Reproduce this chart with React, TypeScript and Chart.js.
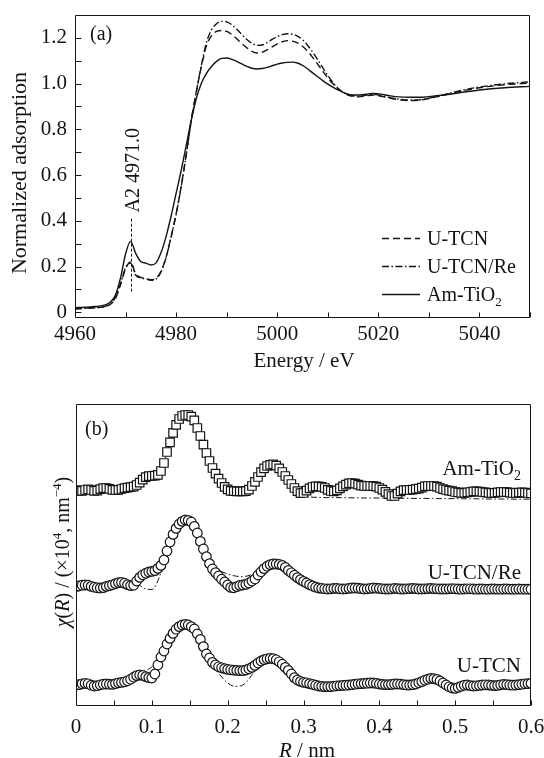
import { useEffect, useRef } from 'react';
import { Chart, registerables } from 'chart.js';

Chart.register(...registerables);

const FONT_FAMILY = '"Liberation Serif", "Times New Roman", Times, serif';
const INK = '#141414';
const TICK_SIZE = 21;
const LEGEND_SIZE = 20;

// ---------- (a) Ti K-edge XANES ----------
const ENERGY = [
  4960, 4962, 4964, 4966, 4967, 4968, 4969, 4970, 4971, 4972,
  4973, 4974, 4975, 4976, 4977, 4978, 4979, 4980, 4981, 4982,
  4983, 4984, 4985, 4986, 4987, 4988, 4989, 4990, 4991, 4992,
  4993, 4994, 4995, 4996, 4997, 4998, 4999, 5000, 5001, 5002,
  5003, 5004, 5005, 5006, 5007, 5008, 5009, 5010, 5011, 5012,
  5013, 5014, 5015, 5016, 5017, 5018, 5019, 5020, 5022, 5024,
  5026, 5028, 5030, 5033, 5036, 5040, 5045, 5050,
];

const XANES_UTCN = [
  0.015, 0.018, 0.020, 0.025, 0.035, 0.060, 0.120, 0.190, 0.220, 0.168,
  0.153, 0.148, 0.142, 0.148, 0.178, 0.240, 0.330, 0.430, 0.550, 0.690,
  0.840, 0.965, 1.075, 1.165, 1.210, 1.228, 1.232, 1.228, 1.215, 1.196,
  1.175, 1.156, 1.141, 1.134, 1.137, 1.147, 1.161, 1.174, 1.183, 1.188,
  1.186, 1.178, 1.163, 1.142, 1.115, 1.085, 1.055, 1.025, 1.000, 0.978,
  0.962, 0.950, 0.944, 0.942, 0.944, 0.948, 0.950, 0.947, 0.938, 0.930,
  0.926, 0.927, 0.935, 0.950, 0.965, 0.982, 0.995, 1.002,
];

const XANES_UTCN_RE = [
  0.015, 0.017, 0.020, 0.026, 0.038, 0.065, 0.125, 0.195, 0.215, 0.163,
  0.150, 0.146, 0.140, 0.145, 0.176, 0.238, 0.328, 0.428, 0.548, 0.688,
  0.838, 0.965, 1.080, 1.180, 1.235, 1.262, 1.272, 1.270, 1.258, 1.238,
  1.215, 1.193, 1.176, 1.167, 1.169, 1.179, 1.193, 1.205, 1.214, 1.218,
  1.216, 1.208, 1.192, 1.168, 1.138, 1.105, 1.070, 1.035, 1.005, 0.980,
  0.963, 0.952, 0.947, 0.945, 0.947, 0.951, 0.953, 0.950, 0.940, 0.932,
  0.928, 0.929, 0.936, 0.952, 0.968, 0.985, 0.999, 1.008,
];

const XANES_AM_TIO2 = [
  0.020, 0.022, 0.025, 0.032, 0.045, 0.075, 0.150, 0.255, 0.310, 0.258,
  0.222, 0.215, 0.207, 0.215, 0.260, 0.330, 0.420, 0.520, 0.620, 0.730,
  0.840, 0.935, 1.002, 1.045, 1.075, 1.097, 1.110, 1.112, 1.106, 1.097,
  1.086, 1.075, 1.067, 1.064, 1.066, 1.071, 1.078, 1.085, 1.090, 1.093,
  1.094, 1.090, 1.080, 1.065, 1.047, 1.030, 1.013, 0.998, 0.985, 0.973,
  0.962, 0.954, 0.950, 0.950, 0.952, 0.955, 0.957, 0.955, 0.948, 0.942,
  0.940, 0.940, 0.943, 0.950, 0.960, 0.972, 0.982, 0.988,
];

const XANES_LABELS = ['U-TCN', 'U-TCN/Re', 'Am-TiO₂'];
const ENERGY_TICKS = [4960, 4970, 4980, 4990, 5000, 5010, 5020, 5030, 5040, 5050];
const ENERGY_LABELS = [4960, 4980, 5000, 5020, 5040];
const ABS_TICKS = [0, 0.1, 0.2, 0.3, 0.4, 0.5, 0.6, 0.7, 0.8, 0.9, 1.0, 1.1, 1.2];
const ABS_LABELS = [0, 0.2, 0.4, 0.6, 0.8, 1.0, 1.2];
const A2_ENERGY = 4971.0;
const A2_SPAN = [0.09, 0.41];

// ---------- (b) Fourier-transformed EXAFS, stacked ----------
const R_STEP = 0.004;
const FIT_STEP = 0.01;

const CHI_AM_TIO2 = [
  10.80, 10.76, 10.76, 10.80, 10.83, 10.80, 10.76, 10.77, 10.84, 10.89,
  10.90, 10.86, 10.81, 10.80, 10.81, 10.85, 10.89, 10.92, 10.94, 10.97,
  11.05, 11.17, 11.32, 11.44, 11.49, 11.50, 11.52, 11.56, 11.75, 12.15,
  12.70, 13.18, 13.66, 14.06, 14.35, 14.50, 14.55, 14.55, 14.47, 14.28,
  13.90, 13.50, 13.07, 12.65, 12.25, 11.90, 11.62, 11.37, 11.15, 10.96,
  10.83, 10.76, 10.74, 10.73, 10.73, 10.73, 10.74, 10.82, 11.00, 11.21,
  11.45, 11.69, 11.88, 12.00, 12.06, 12.08, 12.02, 11.88, 11.70, 11.50,
  11.30, 11.10, 10.90, 10.74, 10.64, 10.65, 10.77, 10.88, 10.95, 10.98,
  10.98, 10.96, 10.90, 10.81, 10.75, 10.73, 10.78, 10.88, 10.98, 11.07,
  11.13, 11.15, 11.12, 11.07, 11.02, 11.00, 11.00, 11.00, 10.99, 10.97,
  10.90, 10.82, 10.71, 10.59, 10.50, 10.50, 10.62, 10.73, 10.79, 10.80,
  10.80, 10.82, 10.84, 10.87, 10.92, 10.98, 11.00, 11.00, 11.00, 10.97,
  10.90, 10.84, 10.80, 10.77, 10.74, 10.70, 10.68, 10.66, 10.66, 10.68,
  10.70, 10.73, 10.73, 10.72, 10.70, 10.68, 10.66, 10.65, 10.66, 10.68,
  10.70, 10.70, 10.69, 10.67, 10.65, 10.65, 10.67, 10.68, 10.67, 10.65,
  10.63,
];

const CHI_UTCN_RE = [
  5.98, 6.00, 6.04, 6.05, 6.04, 5.98, 5.94, 5.91, 5.90, 5.92,
  5.98, 6.02, 6.06, 6.12, 6.17, 6.18, 6.14, 6.07, 6.02, 6.04,
  6.25, 6.43, 6.56, 6.64, 6.70, 6.73, 6.77, 6.88, 7.03, 7.30,
  7.75, 8.20, 8.58, 8.88, 9.10, 9.23, 9.30, 9.28, 9.20, 8.98,
  8.65, 8.23, 7.85, 7.47, 7.12, 6.85, 6.67, 6.50, 6.34, 6.20,
  6.05, 5.93, 5.91, 5.97, 6.03, 6.05, 6.08, 6.15, 6.25, 6.35,
  6.55, 6.71, 6.87, 6.99, 7.07, 7.10, 7.10, 7.08, 7.03, 6.93,
  6.78, 6.66, 6.54, 6.42, 6.32, 6.23, 6.15, 6.07, 6.00, 5.94,
  5.90, 5.88, 5.86, 5.85, 5.86, 5.88, 5.88, 5.86, 5.85, 5.86,
  5.88, 5.90, 5.90, 5.89, 5.87, 5.85, 5.86, 5.88, 5.90, 5.89,
  5.88, 5.86, 5.85, 5.85, 5.86, 5.88, 5.87, 5.85, 5.85, 5.86,
  5.87, 5.88, 5.87, 5.85, 5.85, 5.86, 5.87, 5.88, 5.87, 5.86,
  5.85, 5.85, 5.85, 5.86, 5.87, 5.86, 5.85, 5.84, 5.85, 5.86,
  5.86, 5.85, 5.84, 5.85, 5.85, 5.84, 5.84, 5.85, 5.85, 5.84,
  5.84, 5.85, 5.85, 5.84, 5.84, 5.84, 5.85, 5.84, 5.84, 5.84,
  5.84,
];

const CHI_UTCN = [
  1.05, 1.07, 1.11, 1.13, 1.11, 1.04, 1.00, 1.02, 1.06, 1.09,
  1.10, 1.09, 1.08, 1.12, 1.16, 1.18, 1.21, 1.26, 1.34, 1.44,
  1.52, 1.55, 1.53, 1.47, 1.42, 1.40, 1.60, 2.05, 2.45, 2.75,
  3.10, 3.38, 3.63, 3.84, 3.97, 4.05, 4.08, 4.05, 3.97, 3.85,
  3.60, 3.33, 2.97, 2.60, 2.40, 2.18, 2.05, 1.96, 1.91, 1.87,
  1.83, 1.81, 1.79, 1.78, 1.77, 1.77, 1.80, 1.86, 1.93, 2.03,
  2.15, 2.25, 2.32, 2.36, 2.38, 2.37, 2.31, 2.21, 2.09, 1.93,
  1.78, 1.60, 1.42, 1.30, 1.23, 1.18, 1.16, 1.12, 1.08, 1.04,
  1.00, 0.98, 0.97, 0.97, 0.97, 0.99, 1.01, 1.02, 1.03, 1.04,
  1.05, 1.07, 1.09, 1.11, 1.12, 1.13, 1.14, 1.15, 1.15, 1.13,
  1.10, 1.08, 1.07, 1.07, 1.08, 1.10, 1.10, 1.09, 1.07, 1.05,
  1.05, 1.07, 1.10, 1.16, 1.22, 1.29, 1.34, 1.38, 1.37, 1.33,
  1.25, 1.15, 1.05, 0.96, 0.90, 0.88, 0.93, 0.99, 1.04, 1.05,
  1.02, 1.00, 1.01, 1.03, 1.05, 1.06, 1.05, 1.03, 1.02, 1.03,
  1.06, 1.08, 1.07, 1.05, 1.04, 1.05, 1.07, 1.09, 1.11, 1.12,
  1.13,
];

const FIT_AM_TIO2 = [
  10.80, 10.78, 10.80, 10.82, 10.87, 10.82, 10.86, 10.92, 11.03, 11.38,
  11.50, 11.62, 12.65, 13.85, 14.47, 14.50, 13.88, 12.85, 11.88, 11.25,
  10.85, 10.72, 10.73, 10.90, 11.45, 11.95, 12.06, 11.80, 11.30, 10.85,
  10.55, 10.45, 10.43, 10.42, 10.42, 10.42, 10.41, 10.41, 10.40, 10.40,
  10.40, 10.40, 10.39, 10.39, 10.38, 10.38, 10.38, 10.37, 10.37, 10.37,
  10.37, 10.36, 10.36, 10.36, 10.35, 10.35, 10.35, 10.35, 10.34, 10.34,
  10.34,
];

const FIT_UTCN_RE = [
  5.98, 6.05, 5.98, 5.90, 5.98, 6.08, 6.18, 6.03, 6.10, 5.88,
  5.82, 6.45, 7.70, 8.75, 9.25, 9.28, 8.70, 7.75, 6.95, 6.75,
  6.60, 6.50, 6.47, 6.55, 6.72, 6.92, 7.05, 6.95, 6.60, 6.25,
  5.98, 5.88, 5.86, 5.86, 5.87, 5.86, 5.87, 5.88, 5.86, 5.88,
  5.86, 5.85, 5.87, 5.86, 5.86, 5.87, 5.86, 5.86, 5.87, 5.85,
  5.86, 5.86, 5.84, 5.85, 5.86, 5.84, 5.85, 5.84, 5.84, 5.84,
  5.84,
];

const FIT_UTCN = [
  1.05, 1.10, 1.06, 1.04, 1.10, 1.10, 1.18, 1.30, 1.55, 1.75,
  1.95, 2.35, 3.20, 3.85, 4.12, 4.05, 3.55, 2.75, 2.05, 1.55,
  1.15, 0.98, 1.05, 1.45, 2.05, 2.35, 2.38, 2.12, 1.75, 1.38,
  1.18, 1.10, 1.02, 0.98, 0.98, 1.02, 1.05, 1.10, 1.13, 1.15,
  1.10, 1.07, 1.10, 1.08, 1.05, 1.12, 1.28, 1.36, 1.22, 0.98,
  0.85, 1.00, 1.02, 1.02, 1.06, 1.02, 1.06, 1.06, 1.05, 1.10,
  1.13,
];

const R_TICKS = [0, 0.05, 0.1, 0.15, 0.2, 0.25, 0.3, 0.35, 0.4, 0.45, 0.5, 0.55, 0.6];
const R_LABELS = [0, 0.1, 0.2, 0.3, 0.4, 0.5, 0.6];
const CHI_RANGE = [0, 15.1];

// ---------- styles ----------
const DASH_UTCN = [7, 4];
const DASH_UTCN_RE = [7, 2.5, 1.5, 2.5];
const DASH_FIT = [6, 2.5, 1.5, 2.5];

type Run = { t: string; italic?: boolean; sup?: boolean; sub?: boolean };

function runFont(r: Run, size: number) {
  const s = r.sup || r.sub ? Math.round(size * 0.65) : size;
  return `${r.italic ? 'italic ' : ''}${s}px ${FONT_FAMILY}`;
}

function drawRuns(
  ctx: CanvasRenderingContext2D,
  runs: Run[],
  x: number,
  y: number,
  size: number,
  align: 'left' | 'center' | 'right',
) {
  ctx.save();
  ctx.fillStyle = INK;
  ctx.textBaseline = 'alphabetic';
  ctx.textAlign = 'left';
  let total = 0;
  for (const r of runs) {
    ctx.font = runFont(r, size);
    total += ctx.measureText(r.t).width;
  }
  let cx = align === 'left' ? x : align === 'center' ? x - total / 2 : x - total;
  for (const r of runs) {
    ctx.font = runFont(r, size);
    const dy = r.sup ? -size * 0.4 : r.sub ? size * 0.24 : 0;
    ctx.fillText(r.t, cx, y + dy);
    cx += ctx.measureText(r.t).width;
  }
  ctx.restore();
}

function labelRuns(label: string): Run[] {
  const parts = label.split('₂');
  const runs: Run[] = [];
  parts.forEach((p, i) => {
    if (p) runs.push({ t: p });
    if (i < parts.length - 1) runs.push({ t: '2', sub: true });
  });
  return runs;
}

const near = (list: number[], v: number) => list.some((l) => Math.abs(l - v) < 1e-6);

function drawFrame(chart: any, xTicks: number[], yTicks: number[]) {
  const { ctx, chartArea: ca, scales } = chart;
  const L = Math.round(ca.left) + 0.5;
  const R = Math.round(ca.right) - 0.5;
  const T = Math.round(ca.top) + 0.5;
  const B = Math.round(ca.bottom) - 0.5;
  ctx.save();
  ctx.strokeStyle = INK;
  ctx.lineWidth = 1;
  ctx.setLineDash([]);
  ctx.beginPath();
  ctx.rect(L, T, R - L, B - T);
  for (const v of xTicks) {
    const px = Math.round(scales.x.getPixelForValue(v)) + 0.5;
    ctx.moveTo(px, B);
    ctx.lineTo(px, B - 5);
  }
  for (const v of yTicks) {
    const py = Math.round(scales.y.getPixelForValue(v)) + 0.5;
    ctx.moveTo(L, py);
    ctx.lineTo(L + 6, py);
  }
  ctx.stroke();
  ctx.restore();
}

const tickFont = { family: FONT_FAMILY, size: TICK_SIZE };

function configXanes(): any {
  const series = [XANES_UTCN, XANES_UTCN_RE, XANES_AM_TIO2];
  const dashes = [DASH_UTCN, DASH_UTCN_RE, []];
  const datasets = series.map((vals, k) => ({
    label: XANES_LABELS[k],
    data: ENERGY.map((e, i) => ({ x: e, y: vals[i] })),
    borderColor: INK,
    borderWidth: 1.4,
    borderDash: dashes[k],
    pointRadius: 0,
    fill: false,
    cubicInterpolationMode: 'monotone',
  }));

  const decor = {
    id: 'xanesDecor',
    afterDatasetsDraw(chart: any) {
      const { ctx, scales } = chart;
      drawFrame(chart, ENERGY_TICKS, ABS_TICKS);

      // A2 pre-edge marker
      const ax = Math.round(scales.x.getPixelForValue(A2_ENERGY)) + 0.5;
      const y0 = scales.y.getPixelForValue(A2_SPAN[0]);
      const y1 = scales.y.getPixelForValue(A2_SPAN[1]);
      ctx.save();
      ctx.strokeStyle = INK;
      ctx.lineWidth = 1;
      ctx.setLineDash([3, 2]);
      ctx.beginPath();
      ctx.moveTo(ax, y0);
      ctx.lineTo(ax, y1);
      ctx.stroke();
      ctx.translate(ax, y1 - 6);
      ctx.rotate(-Math.PI / 2);
      drawRuns(ctx, [{ t: `A2 ${A2_ENERGY.toFixed(1)}` }], 0, 7, LEGEND_SIZE, 'left');
      ctx.restore();

      // legend
      const rows = [238, 266, 294];
      chart.data.datasets.forEach((ds: any, k: number) => {
        const y = rows[k] + 0.5;
        ctx.save();
        ctx.strokeStyle = INK;
        ctx.lineWidth = 1.3;
        ctx.setLineDash(ds.borderDash || []);
        ctx.beginPath();
        ctx.moveTo(382, y);
        ctx.lineTo(420, y);
        ctx.stroke();
        ctx.restore();
        drawRuns(ctx, labelRuns(ds.label), 427, rows[k] + 7, LEGEND_SIZE, 'left');
      });

      // panel tag and axis titles
      drawRuns(ctx, [{ t: '(a)' }], 90, 40, LEGEND_SIZE, 'left');
      drawRuns(ctx, [{ t: 'Energy / eV' }], 304, 367, 21, 'center');
      ctx.save();
      ctx.translate(21, 173);
      ctx.rotate(-Math.PI / 2);
      drawRuns(ctx, [{ t: 'Normalized adsorption' }], 0, 5, 22, 'center');
      ctx.restore();
    },
  };

  return {
    type: 'line',
    data: { datasets },
    plugins: [decor],
    options: {
      animation: false,
      responsive: false,
      events: [],
      layout: { padding: { top: 15, right: 14, left: 0, bottom: 0 } },
      plugins: { legend: { display: false }, tooltip: { enabled: false } },
      scales: {
        x: {
          type: 'linear',
          min: 4960,
          max: 5050,
          afterBuildTicks: (s: any) => {
            s.ticks = ENERGY_TICKS.map((v) => ({ value: v }));
          },
          afterFit: (s: any) => {
            s.height = 62;
            s.paddingLeft = 0;
            s.paddingRight = 0;
          },
          grid: { display: false, drawTicks: false },
          border: { display: false },
          ticks: {
            autoSkip: false,
            maxRotation: 0,
            padding: 4,
            color: INK,
            font: tickFont,
            callback: (v: number) => (near(ENERGY_LABELS, v) ? String(v) : ''),
          },
        },
        y: {
          type: 'linear',
          min: -0.025,
          max: 1.3,
          afterBuildTicks: (s: any) => {
            s.ticks = ABS_TICKS.map((v) => ({ value: v }));
          },
          afterFit: (s: any) => {
            s.width = 75;
            s.paddingTop = 0;
            s.paddingBottom = 0;
          },
          grid: { display: false, drawTicks: false },
          border: { display: false },
          ticks: {
            autoSkip: false,
            padding: 8,
            color: INK,
            font: tickFont,
            callback: (v: number) => (near(ABS_LABELS, v) ? (v === 0 ? '0' : v.toFixed(1)) : ''),
          },
        },
      },
    },
  };
}

function configExafs(): any {
  const samples = [
    { label: 'Am-TiO₂', data: CHI_AM_TIO2, fit: FIT_AM_TIO2, marker: 'rect', radius: 6 },
    { label: 'U-TCN/Re', data: CHI_UTCN_RE, fit: FIT_UTCN_RE, marker: 'circle', radius: 4.8 },
    { label: 'U-TCN', data: CHI_UTCN, fit: FIT_UTCN, marker: 'circle', radius: 4.8 },
  ];
  const datasets: any[] = [];
  samples.forEach((s) => {
    datasets.push({
      label: s.label,
      data: s.data.map((v, i) => ({ x: i * R_STEP, y: v })),
      showLine: false,
      pointStyle: s.marker,
      pointRadius: s.radius,
      pointBorderWidth: 1.2,
      pointBorderColor: INK,
      pointBackgroundColor: '#ffffff',
      order: 1,
    });
    datasets.push({
      label: `${s.label} fit`,
      data: s.fit.map((v, i) => ({ x: i * FIT_STEP, y: v })),
      borderColor: INK,
      borderWidth: 1,
      borderDash: DASH_FIT,
      pointRadius: 0,
      fill: false,
      cubicInterpolationMode: 'monotone',
      order: 2,
    });
  });

  const labelRows = [88, 192, 285];

  const decor = {
    id: 'exafsDecor',
    afterDatasetsDraw(chart: any) {
      const { ctx } = chart;
      drawFrame(chart, R_TICKS, []);
      samples.forEach((s, k) => {
        drawRuns(ctx, labelRuns(s.label), 521, labelRows[k] + 7, 21, 'right');
      });
      drawRuns(ctx, [{ t: '(b)' }], 85, 55, LEGEND_SIZE, 'left');
      drawRuns(ctx, [{ t: 'R', italic: true }, { t: ' / nm' }], 307, 377, 21, 'center');
      ctx.save();
      ctx.translate(64, 172);
      ctx.rotate(-Math.PI / 2);
      drawRuns(
        ctx,
        [
          { t: 'χ', italic: true },
          { t: '(' },
          { t: 'R', italic: true },
          { t: ') / (×10' },
          { t: '4', sup: true },
          { t: ', nm' },
          { t: '−4', sup: true },
          { t: ')' },
        ],
        0,
        5,
        20,
        'center',
      );
      ctx.restore();
    },
  };

  return {
    type: 'line',
    data: { datasets },
    plugins: [decor],
    options: {
      animation: false,
      responsive: false,
      events: [],
      layout: { padding: { top: 24, right: 13, left: 76, bottom: 0 } },
      plugins: { legend: { display: false }, tooltip: { enabled: false } },
      scales: {
        x: {
          type: 'linear',
          min: 0,
          max: 0.6,
          afterBuildTicks: (s: any) => {
            s.ticks = R_TICKS.map((v) => ({ value: v }));
          },
          afterFit: (s: any) => {
            s.height = 52;
            s.paddingLeft = 0;
            s.paddingRight = 0;
          },
          grid: { display: false, drawTicks: false },
          border: { display: false },
          ticks: {
            autoSkip: false,
            maxRotation: 0,
            padding: 9,
            color: INK,
            font: tickFont,
            callback: (v: number) => (near(R_LABELS, v) ? (v === 0 ? '0' : v.toFixed(1)) : ''),
          },
        },
        y: {
          type: 'linear',
          display: false,
          min: CHI_RANGE[0],
          max: CHI_RANGE[1],
        },
      },
    },
  };
}

export default function App() {
  const refA = useRef<HTMLCanvasElement>(null);
  const refB = useRef<HTMLCanvasElement>(null);

  useEffect(() => {
    const a = new Chart(refA.current as HTMLCanvasElement, configXanes());
    const b = new Chart(refB.current as HTMLCanvasElement, configExafs());
    return () => {
      a.destroy();
      b.destroy();
    };
  }, []);

  return (
    <div style={{ position: 'absolute', left: 0, top: 0, width: 544, height: 758, background: '#fff' }}>
      <canvas ref={refA} width={544} height={380} style={{ position: 'absolute', left: 0, top: 0 }} />
      <canvas ref={refB} width={544} height={378} style={{ position: 'absolute', left: 0, top: 380 }} />
    </div>
  );
}
